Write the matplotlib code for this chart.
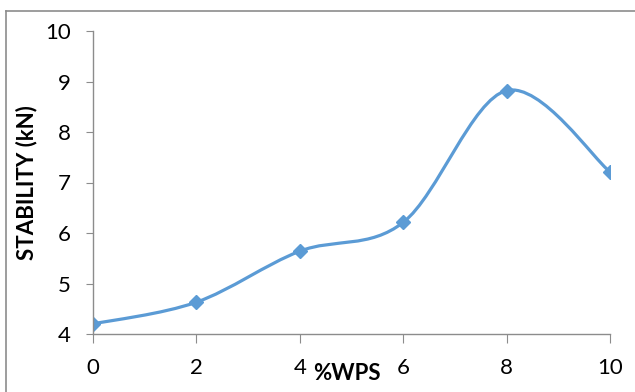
import matplotlib
matplotlib.use("Agg")
from matplotlib import pyplot as plt
from matplotlib.path import Path
from matplotlib.patches import PathPatch
from matplotlib.lines import Line2D

plt.rcParams['font.family'] = ['Lato', 'DejaVu Sans']

# stability of the mix against %WPS
wps = [0, 2, 4, 6, 8, 10]
stability = [4.2, 4.63, 5.64, 6.21, 8.82, 7.21]

line_col = '#5B9BD5'
axis_col = '#8C8C8C'

fig = plt.figure(figsize=(6.35, 3.92), dpi=100)
ax = fig.add_axes([93 / 635, 58 / 392, 517 / 635, 303 / 392])

# smoothed curve: cubic bezier through each pair of points
pts = list(zip(wps, stability))
verts = [pts[0]]
codes = [Path.MOVETO]
n = len(pts)
for i in range(n - 1):
    p0 = pts[i - 1] if i > 0 else pts[i]
    p1 = pts[i]
    p2 = pts[i + 1]
    p3 = pts[i + 2] if i + 2 < n else pts[i + 1]
    c1 = (p1[0] + (p2[0] - p0[0]) / 6, p1[1] + (p2[1] - p0[1]) / 6)
    c2 = (p2[0] - (p3[0] - p1[0]) / 6, p2[1] - (p3[1] - p1[1]) / 6)
    verts += [c1, c2, p2]
    codes += [Path.CURVE4] * 3
ax.add_patch(PathPatch(Path(verts, codes), facecolor='none',
                       edgecolor=line_col, lw=2.3, capstyle='round'))
ax.plot(wps, stability, ls='none', marker='D', ms=7, color=line_col)

ax.set_xlim(0, 10)
ax.set_ylim(4, 10)
ax.set_xticks(range(0, 11, 2))
ax.set_yticks(range(4, 11))
for s in ['top', 'right']:
    ax.spines[s].set_visible(False)
for s in ['left', 'bottom']:
    ax.spines[s].set_color(axis_col)
    ax.spines[s].set_linewidth(1)
ax.tick_params(axis='both', colors=axis_col, labelcolor='black',
               labelsize=16)
ax.tick_params(axis='x', length=6.5, pad=11)
ax.tick_params(axis='y', length=5, pad=11)

fig.text(27 / 635, 1 - 183 / 392, 'STABILITY (kN)', fontsize=16,
         fontweight='bold', rotation=90, ha='center', va='center')
fig.text(347 / 635, 1 - 374 / 392, '%WPS', fontsize=16, fontweight='bold',
         ha='center', va='center')

# chart frame
fig.add_artist(Line2D([6 / 635, 6 / 635], [0, 1 - 11 / 392], color=axis_col, lw=1.2))
fig.add_artist(Line2D([6 / 635, 1], [1 - 11 / 392, 1 - 11 / 392], color=axis_col, lw=1.2))

fig.savefig('out.png', dpi=100)
